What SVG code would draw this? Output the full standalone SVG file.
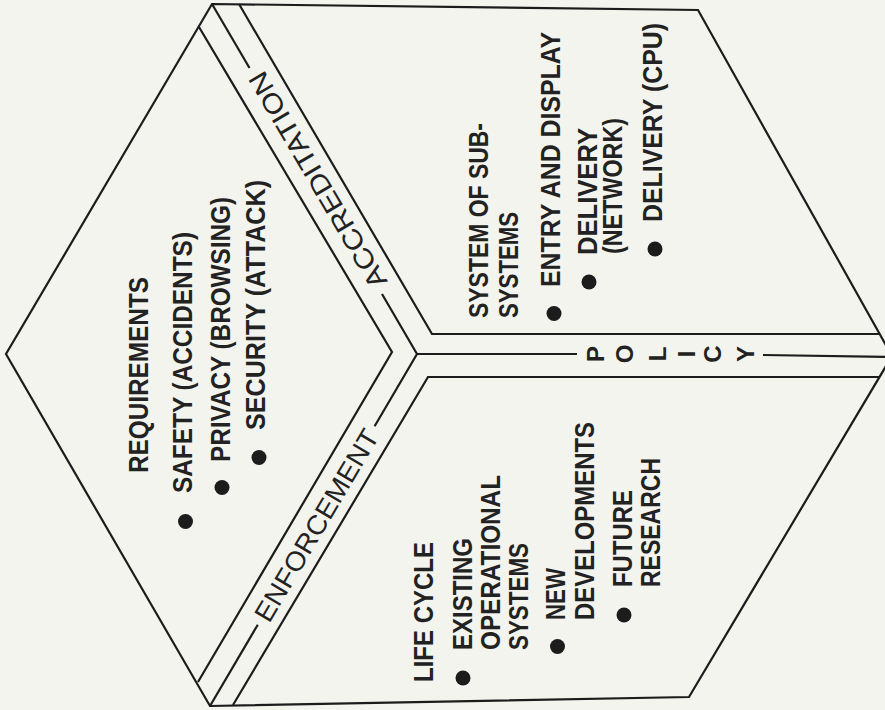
<svg xmlns="http://www.w3.org/2000/svg" width="885" height="710" viewBox="0 0 885 710">
<style>
.ln{fill:none;stroke:#1c1c1c;stroke-width:2.2;stroke-linejoin:miter}
.t{font-family:"Liberation Sans",Arial,sans-serif;font-size:27px;font-weight:bold;fill:#222}
.lab{font-family:"Liberation Sans",Arial,sans-serif;font-size:27px;fill:#222;text-anchor:middle}
.pl{font-family:"Liberation Sans",Arial,sans-serif;font-size:24px;font-weight:bold;fill:#222;text-anchor:middle}
.b{fill:#1c1c1c}
</style>
<rect width="885" height="710" fill="#f4f4ee"/>
<g id="outline">
<polygon class="ln" points="212,4 698,10 892,356 689,697 210,706 6,354"/>
</g>
<g id="face-requirements">
<polyline class="ln" points="199,27 392,352 198,682"/>
<text class="t" transform="translate(148,473) rotate(-90)" textLength="196" lengthAdjust="spacingAndGlyphs">REQUIREMENTS</text>
<circle class="b" cx="185.5" cy="521.5" r="7.5"/>
<text class="t" transform="translate(192,493) rotate(-90)" textLength="261" lengthAdjust="spacingAndGlyphs">SAFETY (ACCIDENTS)</text>
<circle class="b" cx="222" cy="487.5" r="7.5"/>
<text class="t" transform="translate(230,462) rotate(-90)" textLength="265" lengthAdjust="spacingAndGlyphs">PRIVACY (BROWSING)</text>
<circle class="b" cx="259" cy="457.5" r="7.5"/>
<text class="t" transform="translate(265,430) rotate(-90)" textLength="250" lengthAdjust="spacingAndGlyphs">SECURITY (ATTACK)</text>
</g>
<g id="face-subsystems">
<polyline class="ln" points="239,4 432,334 880,334"/>
<text class="t" transform="translate(488,318) rotate(-90)" textLength="195" lengthAdjust="spacingAndGlyphs">SYSTEM OF SUB-</text>
<text class="t" transform="translate(518,318) rotate(-90)" textLength="106" lengthAdjust="spacingAndGlyphs">SYSTEMS</text>
<circle class="b" cx="554" cy="313.5" r="7.5"/>
<text class="t" transform="translate(560,287) rotate(-90)" textLength="255" lengthAdjust="spacingAndGlyphs">ENTRY AND DISPLAY</text>
<circle class="b" cx="589" cy="282" r="7.5"/>
<text class="t" transform="translate(597,255) rotate(-90)" textLength="127" lengthAdjust="spacingAndGlyphs">DELIVERY</text>
<text class="t" transform="translate(622,254) rotate(-90)" textLength="136" lengthAdjust="spacingAndGlyphs">(NETWORK)</text>
<circle class="b" cx="655" cy="249" r="7.5"/>
<text class="t" transform="translate(662,222) rotate(-90)" textLength="199" lengthAdjust="spacingAndGlyphs">DELIVERY (CPU)</text>
</g>
<g id="face-lifecycle">
<polyline class="ln" points="880,377 428,377 233,705"/>
<text class="t" transform="translate(433,682) rotate(-90)" textLength="140" lengthAdjust="spacingAndGlyphs">LIFE CYCLE</text>
<circle class="b" cx="463" cy="678" r="7.5"/>
<text class="t" transform="translate(472,650) rotate(-90)" textLength="112" lengthAdjust="spacingAndGlyphs">EXISTING</text>
<text class="t" transform="translate(500,650) rotate(-90)" textLength="175" lengthAdjust="spacingAndGlyphs">OPERATIONAL</text>
<text class="t" transform="translate(528,650) rotate(-90)" textLength="107" lengthAdjust="spacingAndGlyphs">SYSTEMS</text>
<circle class="b" cx="557.5" cy="646.5" r="7.5"/>
<text class="t" transform="translate(565,620) rotate(-90)" textLength="52" lengthAdjust="spacingAndGlyphs">NEW</text>
<text class="t" transform="translate(594,620) rotate(-90)" textLength="198" lengthAdjust="spacingAndGlyphs">DEVELOPMENTS</text>
<circle class="b" cx="624" cy="615" r="7.5"/>
<text class="t" transform="translate(632,587) rotate(-90)" textLength="97" lengthAdjust="spacingAndGlyphs">FUTURE</text>
<text class="t" transform="translate(660,587) rotate(-90)" textLength="129" lengthAdjust="spacingAndGlyphs">RESEARCH</text>
</g>
<g id="connectors">
<polyline class="ln" points="212,4 249.5,68"/>
<polyline class="ln" points="382,294 417,354 374.6,426.2"/>
<polyline class="ln" points="257.8,624.7 210,706"/>
<polyline class="ln" points="417,354 577,354"/>
<polyline class="ln" points="763,355 892,357"/>
</g>
<g id="band-accreditation">
<text class="lab" transform="translate(325.7,175.3) rotate(-120.4)" textLength="246" lengthAdjust="spacingAndGlyphs">ACCREDITATION</text>
</g>
<g id="band-enforcement">
<text class="lab" transform="translate(324.6,530) rotate(-59.5)" textLength="218" lengthAdjust="spacingAndGlyphs">ENFORCEMENT</text>
</g>
<g id="band-policy">
<text class="pl" transform="translate(603.6,354) rotate(-90)">P</text>
<text class="pl" transform="translate(632.6,354) rotate(-90)">O</text>
<text class="pl" transform="translate(666.1,354) rotate(-90)">L</text>
<text class="pl" transform="translate(694.6,354) rotate(-90)">I</text>
<text class="pl" transform="translate(721.1,354) rotate(-90)">C</text>
<text class="pl" transform="translate(753.6,354) rotate(-90)">Y</text>
</g>
</svg>
